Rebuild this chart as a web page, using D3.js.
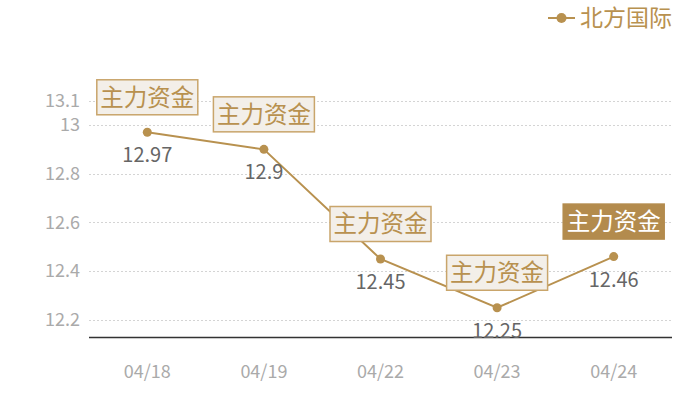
<!DOCTYPE html>
<html><head><meta charset="utf-8">
<script src="https://cdn.jsdelivr.net/npm/d3@7"></script>
<style>body{margin:0;background:#fff}svg{display:block}text{font-family:"Noto Sans CJK SC","Noto Sans",sans-serif}</style>
</head><body>
<svg id="c" width="700" height="400"></svg>
<script>
const dates = ["04/18","04/19","04/22","04/23","04/24"];
const values = [12.97,12.9,12.45,12.25,12.46];
const yTicks = [12.2,12.4,12.6,12.8,13,13.1];
const seriesName = "北方国际";
const markLabel = "主力资金";
const highlighted = [false,false,false,false,true];

const svg = d3.select("#c");
const gold = "#b8914f";
const x = d3.scaleBand().domain(dates).range([89,672]);
const y = d3.scaleLinear().domain([12.13,13.1]).range([337,100.6]);
const cx = d => x(d) + x.bandwidth()/2;

// grid
svg.append("g").selectAll("line").data(yTicks).join("line")
  .attr("x1",89).attr("x2",672).attr("y1",d=>Math.round(y(d))+0.5).attr("y2",d=>Math.round(y(d))+0.5)
  .attr("stroke","#d4d4d4").attr("stroke-dasharray","2,2");
svg.append("g").selectAll("text").data(yTicks).join("text")
  .attr("x",80).attr("y",d=>y(d)).attr("dy","0.35em").attr("text-anchor","end")
  .attr("fill","#aaa").attr("font-size",18).text(d=>d);
// x axis
svg.append("line").attr("x1",89).attr("x2",672).attr("y1",337.5).attr("y2",337.5).attr("stroke","#333").attr("stroke-width",1.5);
svg.append("g").selectAll("text").data(dates).join("text")
  .attr("x",d=>cx(d)).attr("y",372).attr("dy","0.35em").attr("text-anchor","middle")
  .attr("fill","#aaa").attr("font-size",18).text(d=>d);

const pts = dates.map((d,i)=>({d,v:values[i],h:highlighted[i]}));
svg.append("path").datum(pts)
  .attr("d",d3.line().x(p=>cx(p.d)).y(p=>y(p.v)))
  .attr("fill","none").attr("stroke",gold).attr("stroke-width",2);
svg.append("g").selectAll("circle").data(pts).join("circle")
  .attr("cx",p=>cx(p.d)).attr("cy",p=>y(p.v)).attr("r",4.5).attr("fill",gold);
svg.append("g").selectAll("text").data(pts).join("text")
  .attr("x",p=>cx(p.d)).attr("y",p=>y(p.v)+23).attr("dy","0.35em").attr("text-anchor","middle")
  .attr("fill","#666").attr("font-size",20).text(p=>p.v);

// annotation boxes
const bw=101, bh=35;
const g = svg.append("g").selectAll("g").data(pts).join("g")
  .attr("transform",p=>`translate(${cx(p.d)},${y(p.v)-35})`);
g.append("rect").attr("x",-bw/2).attr("y",-bh/2).attr("width",bw).attr("height",bh)
  .attr("fill",p=>p.h?"#b38b4d":"#f3efe9").attr("stroke",p=>p.h?"#b38b4d":"#c9a56b").attr("stroke-width",1.5);
g.append("text").attr("text-anchor","middle").attr("dy","0.36em").attr("font-size",23.5)
  .attr("fill",p=>p.h?"#fff":gold).text(markLabel);

// legend
svg.append("line").attr("x1",548).attr("x2",575).attr("y1",18).attr("y2",18).attr("stroke",gold).attr("stroke-width",2);
svg.append("circle").attr("cx",561.5).attr("cy",18).attr("r",5).attr("fill",gold);
svg.append("text").attr("x",580).attr("y",18).attr("dy","0.36em").attr("font-size",23).attr("fill",gold).text(seriesName);
</script>
</body></html>
